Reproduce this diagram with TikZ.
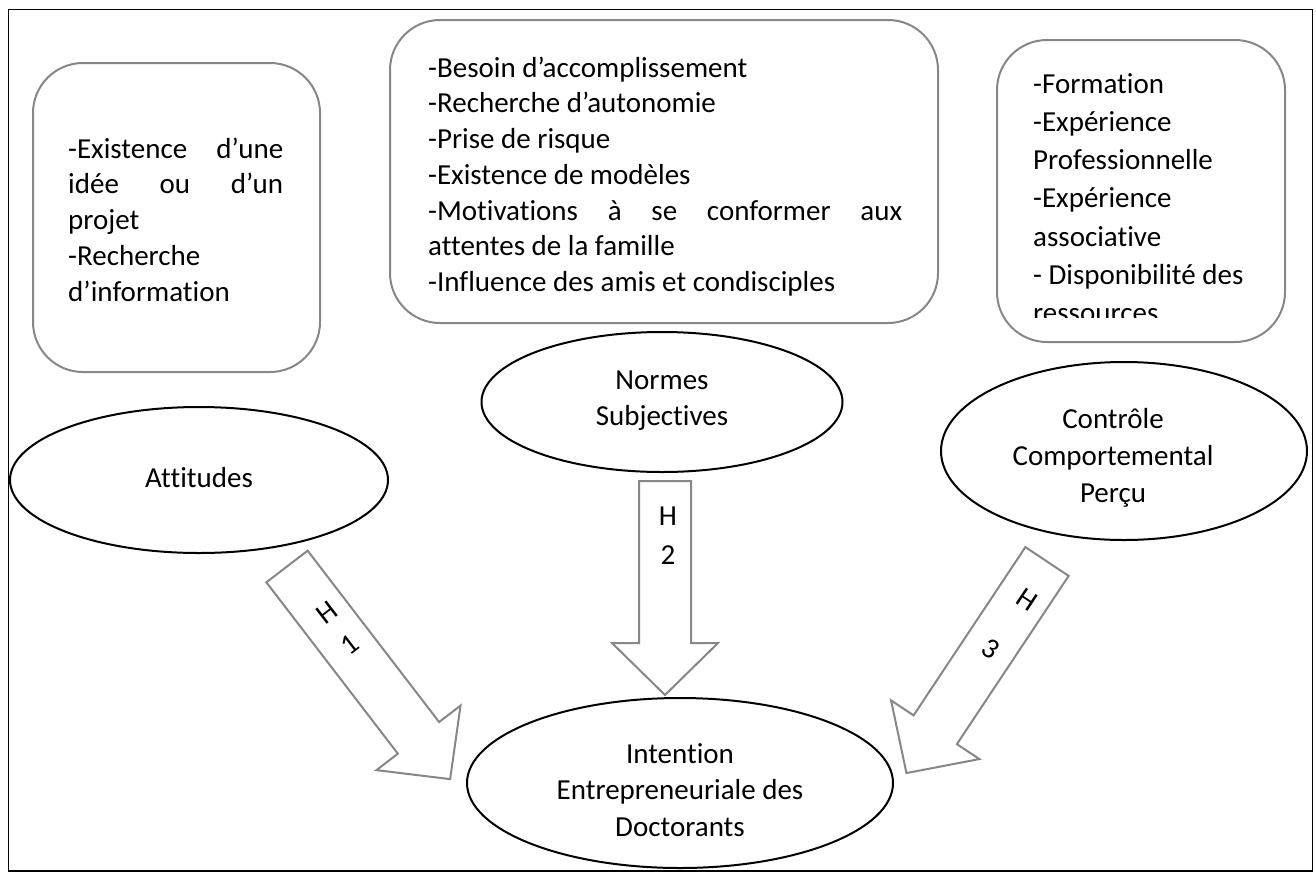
\documentclass[tikz,border=0pt]{standalone}
\usepackage{fontspec}
\setmainfont{Carlito}[Ligatures={NoCommon}]
\usetikzlibrary{shapes.geometric}
\definecolor{boxgray}{RGB}{135,135,135}
\tikzset{
  gbox/.style={draw=boxgray, line width=2pt, rounded corners=50pt, inner sep=0pt},
  oval/.style={draw=black, line width=2pt, ellipse, inner sep=0pt},
  arrowbox/.style={draw=boxgray, line width=2pt, fill=white, line join=miter},
  blk/.style={inner sep=0pt, align=left, font=\fontsize{29}{35.75}\selectfont},
  ctxt/.style={inner sep=0pt, align=center, font=\fontsize{29}{36.5}\selectfont, anchor=north},
  lbl/.style={inner sep=0pt, font=\fontsize{29}{35}\selectfont}
}
\begin{document}
\begin{tikzpicture}[x=1pt,y=-1pt]
\useasboundingbox (0,0) rectangle (1316,873);
% outer frame
\draw[line width=1.5pt] (8.5,9.5) rectangle (1312.5,871);

% rounded boxes
\node[gbox, minimum width=287pt, minimum height=309pt] (b1) at (176.5,217.5) {};
\node[gbox, minimum width=548pt, minimum height=303pt] (b2) at (664,171.5) {};
\node[gbox, minimum width=288pt, minimum height=302pt] (b3) at (1141,191) {};

% box texts
\node[blk, anchor=north west] (t1) at (68,133) {\strut\makebox[215pt]{-Existence\hfill d’une}\\
\makebox[215pt]{idée\hfill ou\hfill d’un}\\projet\\-Recherche\\d’information};
\node[blk, anchor=north west] (t2) at (428,52) {\strut -Besoin d’accomplissement\\-Recherche d’autonomie\\-Prise de risque\\-Existence de modèles\\
\makebox[474pt]{-Motivations\hfill à\hfill se\hfill conformer\hfill aux}\\attentes de la famille\\-Influence des amis et condisciples};
\begin{scope}
\clip (990,30) rectangle (1290,317);
\node[blk, anchor=north west, font=\fontsize{29}{38.3}\selectfont] (t3) at (1033,66) {\strut -Formation\\-Expérience\\Professionnelle\\-Expérience\\associative\\- Disponibilité des\\ressources};
\end{scope}

% ellipses
\node[oval, minimum width=378pt, minimum height=146pt] (att) at (199,480) {};
\node[oval, minimum width=361pt, minimum height=140pt] (nor) at (662,402) {};
\node[oval, minimum width=366pt, minimum height=178pt] (ctl) at (1124,451) {};
\node[oval, minimum width=426pt, minimum height=170pt] (int) at (680,783) {};

\node[ctxt] (attt) at (199,462) {\strut Attitudes};
\node[ctxt] (nort) at (662,363.5) {\strut Normes\\Subjectives};
\node[ctxt, font=\fontsize{29}{37}\selectfont] (ctlt) at (1113,402) {\strut Contrôle\\Comportemental\\Perçu};
\node[ctxt] (intt) at (680,737.5) {\strut Intention\\Entrepreneuriale des\\Doctorants};

% block arrows
\coordinate (h1t) at (287,566.5);
\coordinate (h2t) at (665,481);
\coordinate (h3t) at (1047,561.5);
\begin{scope}[shift={(h1t)}, rotate=-52.5]
\draw[arrowbox] (0,-26) -- (216,-26) -- (216,-53) -- (268,0) -- (216,53) -- (216,26) -- (0,26) -- cycle;
\end{scope}
\begin{scope}[shift={(h2t)}, rotate=-90]
\draw[arrowbox] (0,-26) -- (162,-26) -- (162,-53) -- (214,0) -- (162,53) -- (162,26) -- (0,26) -- cycle;
\end{scope}
\begin{scope}[shift={(h3t)}, rotate=-123.6]
\draw[arrowbox] (0,-26) -- (202,-26) -- (202,-53) -- (254,0) -- (202,53) -- (202,26) -- (0,26) -- cycle;
\end{scope}

% arrow labels
\node[lbl, rotate=37.5] (h1a) at (327,613) {H};
\node[lbl, rotate=37.5] (h1b) at (350,645) {1};
\node[lbl] (h2a) at (668,516) {H};
\node[lbl] (h2b) at (668,555) {2};
\node[lbl, rotate=-33.6] (h3a) at (1027,600) {H};
\node[lbl, rotate=-33.6] (h3b) at (991,649) {3};
\end{tikzpicture}
\end{document}
